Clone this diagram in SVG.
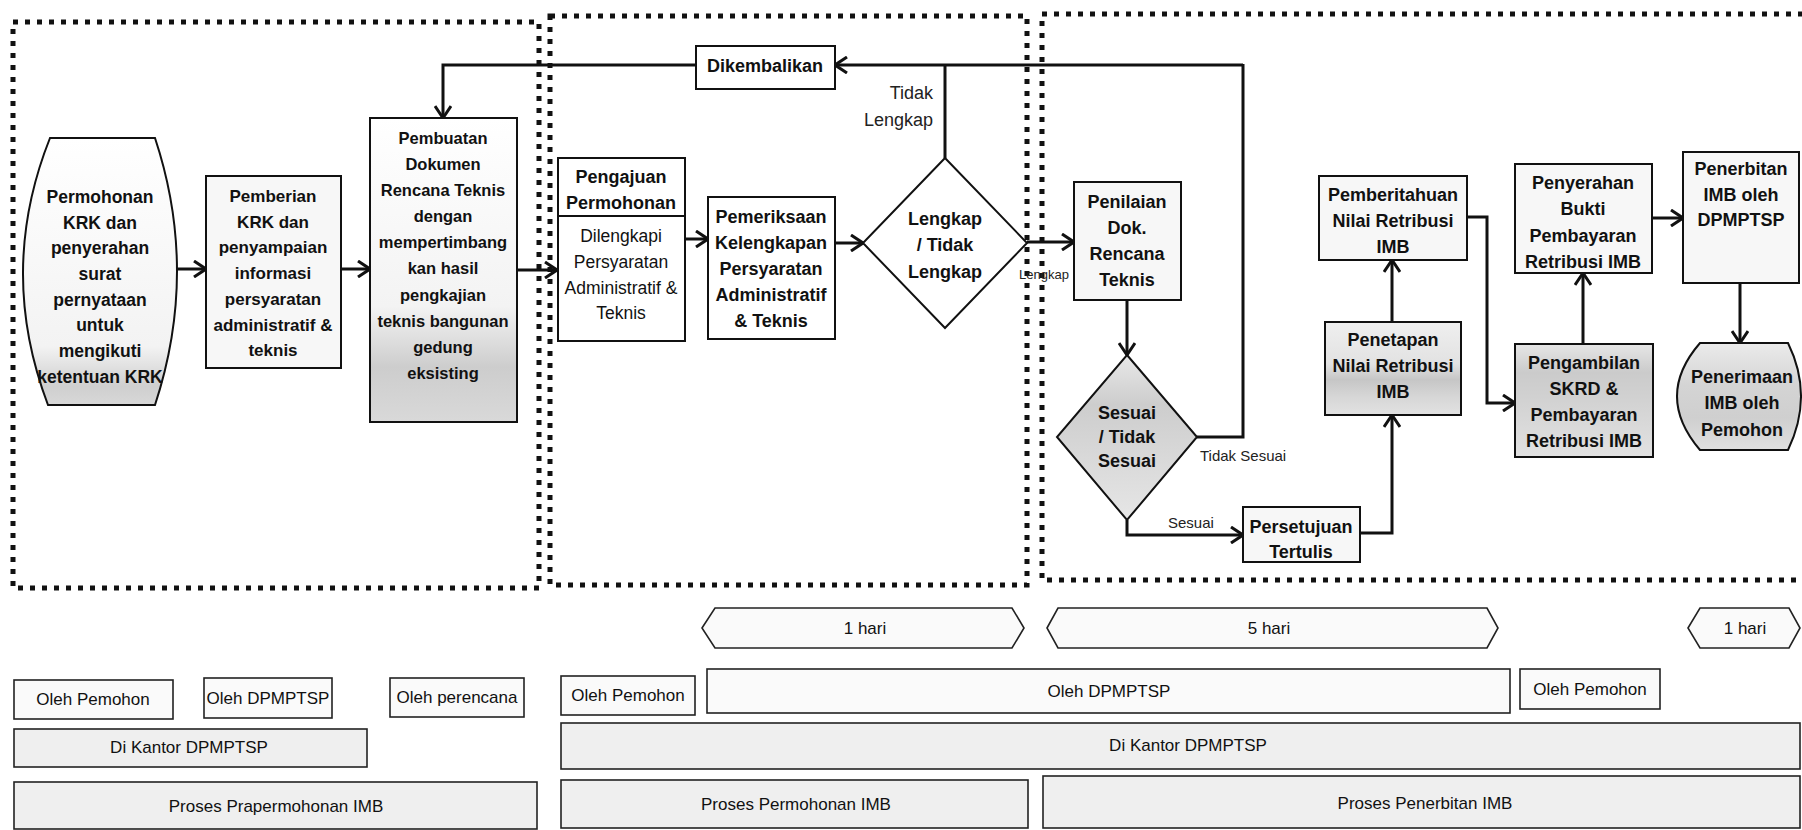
<svg xmlns="http://www.w3.org/2000/svg" width="1802" height="830" viewBox="0 0 1802 830">
<defs>
<style>
.b{font-family:"Liberation Sans",Arial,sans-serif;font-weight:bold;font-size:18px;text-anchor:middle;dominant-baseline:central;fill:#111}
.b16{font-size:16.5px}
.b17{font-size:17px}
.b175{font-size:17.5px}
.r{font-family:"Liberation Sans",Arial,sans-serif;font-size:17.5px;text-anchor:middle;dominant-baseline:central;fill:#111}
.rs{font-family:"Liberation Sans",Arial,sans-serif;font-size:15px;dominant-baseline:central;fill:#222}
.t{font-family:"Liberation Sans",Arial,sans-serif;font-size:17px;text-anchor:middle;dominant-baseline:central;fill:#111}
.box{stroke:#111;stroke-width:2}
.lite{fill:#f7f7f7}
.row{fill:#fafafa;stroke:#222;stroke-width:1.6}
.rowg{fill:#efefef;stroke:#222;stroke-width:1.6}
.conn{fill:none;stroke:#111;stroke-width:3}
.panel{fill:none;stroke:#111;stroke-width:5;stroke-dasharray:5 7}
</style>
<marker id="ah" markerUnits="userSpaceOnUse" viewBox="0 0 14 18" markerWidth="14" markerHeight="18" refX="13" refY="9" orient="auto">
<path d="M1,1 L13,9 L1,17" fill="none" stroke="#111" stroke-width="3"/>
</marker>
<linearGradient id="gPembuatan" x1="0" y1="0" x2="0" y2="1">
<stop offset="0" stop-color="#fff"/><stop offset="0.62" stop-color="#f3f3f3"/><stop offset="0.82" stop-color="#cdcdcd"/><stop offset="1" stop-color="#d9d9d9"/>
</linearGradient>
<linearGradient id="gPermohonan" x1="0" y1="0" x2="0" y2="1">
<stop offset="0" stop-color="#fff"/><stop offset="0.78" stop-color="#f3f3f3"/><stop offset="0.93" stop-color="#cfcfcf"/><stop offset="1" stop-color="#d8d8d8"/>
</linearGradient>
<linearGradient id="gSesuai" x1="0" y1="0" x2="0" y2="1">
<stop offset="0" stop-color="#e8e8e8"/><stop offset="0.3" stop-color="#cdcdcd"/><stop offset="0.6" stop-color="#d8d8d8"/><stop offset="1" stop-color="#e6e6e6"/>
</linearGradient>
<linearGradient id="gPenetapan" x1="0" y1="0" x2="0" y2="1">
<stop offset="0" stop-color="#efefef"/><stop offset="0.45" stop-color="#e2e2e2"/><stop offset="0.62" stop-color="#c6c6c6"/><stop offset="0.8" stop-color="#d6d6d6"/><stop offset="1" stop-color="#e2e2e2"/>
</linearGradient>
<linearGradient id="gPengambilan" x1="0" y1="0" x2="0" y2="1">
<stop offset="0" stop-color="#e6e6e6"/><stop offset="0.25" stop-color="#cbcbcb"/><stop offset="0.5" stop-color="#d2d2d2"/><stop offset="1" stop-color="#e2e2e2"/>
</linearGradient>
<linearGradient id="gPenerimaan" x1="0" y1="0" x2="0" y2="1">
<stop offset="0" stop-color="#ebebeb"/><stop offset="0.4" stop-color="#d4d4d4"/><stop offset="0.7" stop-color="#cfcfcf"/><stop offset="1" stop-color="#e0e0e0"/>
</linearGradient>
</defs>
<rect width="1802" height="830" fill="#fff"/>

<g id="panels">
<rect class="panel" x="13" y="22" width="526" height="566"/>
<rect class="panel" x="550" y="16" width="477" height="569"/>
<rect class="panel" x="1042" y="14" width="790" height="566"/>
</g>

<g id="connectors">
<line class="conn" x1="177" y1="269" x2="206" y2="269" marker-end="url(#ah)"/>
<line class="conn" x1="341" y1="269" x2="370" y2="269" marker-end="url(#ah)"/>
<line class="conn" x1="517" y1="270" x2="557" y2="270" marker-end="url(#ah)"/>
<line class="conn" x1="685" y1="239" x2="708" y2="239" marker-end="url(#ah)"/>
<line class="conn" x1="835" y1="243" x2="863" y2="243" marker-end="url(#ah)"/>
<line class="conn" x1="1027" y1="242" x2="1074" y2="242" marker-end="url(#ah)"/>
<line class="conn" x1="945" y1="158" x2="945" y2="65"/>
<line class="conn" x1="1243" y1="65" x2="835" y2="65" marker-end="url(#ah)"/>
<polyline class="conn" points="696,65 443,65 443,118" marker-end="url(#ah)"/>
<line class="conn" x1="1127" y1="300" x2="1127" y2="355" marker-end="url(#ah)"/>
<polyline class="conn" points="1197,437 1243,437 1243,64"/>
<polyline class="conn" points="1127,520 1127,535 1243,535" marker-end="url(#ah)"/>
<polyline class="conn" points="1360,533 1392,533 1392,415" marker-end="url(#ah)"/>
<line class="conn" x1="1392" y1="322" x2="1392" y2="260" marker-end="url(#ah)"/>
<polyline class="conn" points="1467,217 1487,217 1487,403 1515,403" marker-end="url(#ah)"/>
<line class="conn" x1="1583" y1="344" x2="1583" y2="273" marker-end="url(#ah)"/>
<line class="conn" x1="1652" y1="218" x2="1683" y2="218" marker-end="url(#ah)"/>
<line class="conn" x1="1740" y1="283" x2="1740" y2="343" marker-end="url(#ah)"/>
<text class="rs" text-anchor="end" style="font-size:18px"><tspan x="933" y="93">Tidak</tspan><tspan x="933" y="120">Lengkap</tspan></text>
<text class="rs" x="1044" y="274" text-anchor="middle" style="font-size:13px">Lengkap</text>
<text class="rs" x="1200" y="455">Tidak Sesuai</text>
<text class="rs" x="1168" y="522">Sesuai</text>
</g>

<g id="n-permohonan">
<path class="box" fill="url(#gPermohonan)" d="M50,138 L155,138 Q199,271 155,405 L48,405 Q-3,271 50,138 Z"/>
<text class="b b175"><tspan x="100" y="197">Permohonan</tspan><tspan x="100" y="223">KRK dan</tspan><tspan x="100" y="248">penyerahan</tspan><tspan x="100" y="274">surat</tspan><tspan x="100" y="300">pernyataan</tspan><tspan x="100" y="325">untuk</tspan><tspan x="100" y="351">mengikuti</tspan><tspan x="100" y="377">ketentuan KRK</tspan></text>
</g>

<g id="n-pemberian">
<rect class="box lite" x="206" y="176" width="135" height="192"/>
<text class="b b17"><tspan x="273" y="196">Pemberian</tspan><tspan x="273" y="222">KRK dan</tspan><tspan x="273" y="247">penyampaian</tspan><tspan x="273" y="273">informasi</tspan><tspan x="273" y="299">persyaratan</tspan><tspan x="273" y="325">administratif &amp;</tspan><tspan x="273" y="350">teknis</tspan></text>
</g>

<g id="n-pembuatan">
<rect class="box" fill="url(#gPembuatan)" x="370" y="118" width="147" height="304"/>
<text class="b b16"><tspan x="443" y="138">Pembuatan</tspan><tspan x="443" y="164">Dokumen</tspan><tspan x="443" y="190">Rencana Teknis</tspan><tspan x="443" y="216">dengan</tspan><tspan x="443" y="242">mempertimbang</tspan><tspan x="443" y="268">kan hasil</tspan><tspan x="443" y="295">pengkajian</tspan><tspan x="443" y="321">teknis bangunan</tspan><tspan x="443" y="347">gedung</tspan><tspan x="443" y="373">eksisting</tspan></text>
</g>

<g id="n-dikembalikan">
<rect class="box" fill="#fff" x="696" y="46" width="139" height="43"/>
<text class="b" x="765" y="66">Dikembalikan</text>
</g>

<g id="n-pengajuan">
<rect class="box" fill="#fff" x="558" y="158" width="127" height="183"/>
<line x1="558" y1="216" x2="685" y2="216" stroke="#111" stroke-width="2"/>
<text class="b"><tspan x="621" y="177">Pengajuan</tspan><tspan x="621" y="203">Permohonan</tspan></text>
<text class="r"><tspan x="621" y="236">Dilengkapi</tspan><tspan x="621" y="262">Persyaratan</tspan><tspan x="621" y="288">Administratif &amp;</tspan><tspan x="621" y="313">Teknis</tspan></text>
</g>

<g id="n-pemeriksaan">
<rect class="box" fill="#fff" x="708" y="197" width="127" height="142"/>
<text class="b"><tspan x="771" y="217">Pemeriksaan</tspan><tspan x="771" y="243">Kelengkapan</tspan><tspan x="771" y="269">Persyaratan</tspan><tspan x="771" y="295">Administratif</tspan><tspan x="771" y="321">&amp; Teknis</tspan></text>
</g>

<g id="n-lengkap">
<polygon class="box" fill="#fff" points="945,158 1027,243 945,328 863,243"/>
<text class="b"><tspan x="945" y="219">Lengkap</tspan><tspan x="945" y="245">/ Tidak</tspan><tspan x="945" y="272">Lengkap</tspan></text>
</g>

<g id="n-penilaian">
<rect class="box lite" x="1074" y="182" width="107" height="118"/>
<text class="b"><tspan x="1127" y="202">Penilaian</tspan><tspan x="1127" y="228">Dok.</tspan><tspan x="1127" y="254">Rencana</tspan><tspan x="1127" y="280">Teknis</tspan></text>
</g>

<g id="n-sesuai">
<polygon class="box" fill="url(#gSesuai)" points="1127,355 1197,437 1127,520 1057,437"/>
<text class="b"><tspan x="1127" y="413">Sesuai</tspan><tspan x="1127" y="437">/ Tidak</tspan><tspan x="1127" y="461">Sesuai</tspan></text>
</g>

<g id="n-persetujuan">
<rect class="box lite" x="1243" y="507" width="117" height="55"/>
<text class="b"><tspan x="1301" y="527">Persetujuan</tspan><tspan x="1301" y="552">Tertulis</tspan></text>
</g>

<g id="n-pemberitahuan">
<rect class="box lite" x="1319" y="176" width="148" height="84"/>
<text class="b"><tspan x="1393" y="195">Pemberitahuan</tspan><tspan x="1393" y="221">Nilai Retribusi</tspan><tspan x="1393" y="247">IMB</tspan></text>
</g>

<g id="n-penetapan">
<rect class="box" fill="url(#gPenetapan)" x="1325" y="322" width="136" height="93"/>
<text class="b"><tspan x="1393" y="340">Penetapan</tspan><tspan x="1393" y="366">Nilai Retribusi</tspan><tspan x="1393" y="392">IMB</tspan></text>
</g>

<g id="n-penyerahan">
<rect class="box lite" x="1515" y="164" width="137" height="109"/>
<text class="b"><tspan x="1583" y="183">Penyerahan</tspan><tspan x="1583" y="209">Bukti</tspan><tspan x="1583" y="236">Pembayaran</tspan><tspan x="1583" y="262">Retribusi IMB</tspan></text>
</g>

<g id="n-pengambilan">
<rect class="box" fill="url(#gPengambilan)" x="1515" y="344" width="138" height="113"/>
<text class="b"><tspan x="1584" y="363">Pengambilan</tspan><tspan x="1584" y="389">SKRD &amp;</tspan><tspan x="1584" y="415">Pembayaran</tspan><tspan x="1584" y="441">Retribusi IMB</tspan></text>
</g>

<g id="n-penerbitan">
<rect class="box lite" x="1683" y="152" width="116" height="131"/>
<text class="b"><tspan x="1741" y="169">Penerbitan</tspan><tspan x="1741" y="195">IMB oleh</tspan><tspan x="1741" y="220">DPMPTSP</tspan></text>
</g>

<g id="n-penerimaan">
<path class="box" fill="url(#gPenerimaan)" d="M1700,343 L1788,343 Q1814,396 1788,450 L1700,450 Q1654,396 1700,343 Z"/>
<text class="b"><tspan x="1742" y="377">Penerimaan</tspan><tspan x="1742" y="403">IMB oleh</tspan><tspan x="1742" y="430">Pemohon</tspan></text>
</g>

<g id="durations">
<path class="row" d="M702,628 L715,608 L1012,608 L1024,628 L1012,648 L715,648 Z"/>
<text class="t" x="865" y="628">1 hari</text>
<path class="row" d="M1047,628 L1058,608 L1487,608 L1498,628 L1487,648 L1058,648 Z"/>
<text class="t" x="1269" y="628">5 hari</text>
<path class="row" d="M1688,628 L1700,608 L1789,608 L1800,628 L1789,648 L1700,648 Z"/>
<text class="t" x="1745" y="628">1 hari</text>
</g>

<g id="actors">
<rect class="row" x="14" y="680" width="159" height="39"/><text class="t" x="93" y="699">Oleh Pemohon</text>
<rect class="row" x="204" y="678" width="128" height="40"/><text class="t" x="268" y="698">Oleh DPMPTSP</text>
<rect class="row" x="390" y="678" width="134" height="39"/><text class="t" x="457" y="697">Oleh perencana</text>
<rect class="row" x="561" y="676" width="134" height="39"/><text class="t" x="628" y="695">Oleh Pemohon</text>
<rect class="row" x="707" y="669" width="803" height="44"/><text class="t" x="1109" y="691">Oleh DPMPTSP</text>
<rect class="row" x="1520" y="669" width="140" height="40"/><text class="t" x="1590" y="689">Oleh Pemohon</text>
</g>

<g id="locations">
<rect class="rowg" x="14" y="729" width="353" height="38"/><text class="t" x="189" y="747">Di Kantor DPMPTSP</text>
<rect class="rowg" x="561" y="723" width="1239" height="46"/><text class="t" x="1188" y="745">Di Kantor DPMPTSP</text>
</g>

<g id="phases">
<rect class="rowg" x="14" y="782" width="523" height="47"/><text class="t" x="276" y="806">Proses Prapermohonan IMB</text>
<rect class="rowg" x="561" y="780" width="467" height="48"/><text class="t" x="796" y="804">Proses Permohonan IMB</text>
<rect class="rowg" x="1043" y="776" width="757" height="52"/><text class="t" x="1425" y="803">Proses Penerbitan IMB</text>
</g>
</svg>
